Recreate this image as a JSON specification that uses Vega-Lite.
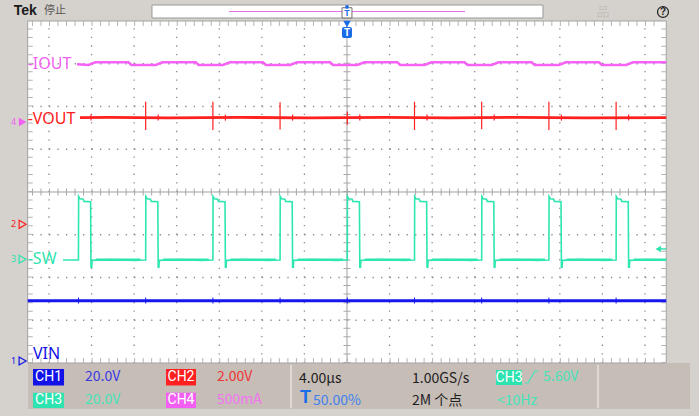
{
"$schema": "https://vega.github.io/schema/vega-lite/v6.json",
"width": 699, "height": 416, "autosize": {"type": "none"}, "padding": 0,
"background": "#d5d1cc",
"config": {"view": {"stroke": null}},
"encoding": {
 "x": {"field": "x", "type": "quantitative", "scale": {"domain": [-8.151, 8.269], "nice": false, "zero": false}, "axis": null},
 "y": {"field": "y", "type": "quantitative", "scale": {"domain": [-5.240, 4.491], "nice": false, "zero": false}, "axis": null}
},
"layer": [
 {"data": {"values": [{"x": -7.488, "x2": 8.058, "y": -4.0, "y2": -5.076}]}, "mark": {"type": "rect", "fill": "#c6bdb7"}, "encoding": {"x2": {"field": "x2"}, "y2": {"field": "y2"}}},
 {"data": {"values": [{"x": -7.5, "x2": 7.5, "y": -4, "y2": 4}]}, "mark": {"type": "rect", "fill": "#ffffff", "stroke": "#a3a3a3", "strokeWidth": 1}, "encoding": {"x2": {"field": "x2"}, "y2": {"field": "y2"}}},
 {"data": {"values": [{"x": -1.315, "y": -4.04, "y2": -5.06}, {"x": 5.896, "y": -4.04, "y2": -5.06}]}, "mark": {"type": "rule", "color": "#ddd8d3", "strokeWidth": 2}, "encoding": {"y2": {"field": "y2"}}},
 {"data": {"values": [{"x": -4.581, "x2": 4.604, "y": 4.070, "y2": 4.374}]}, "mark": {"type": "rect", "fill": "#ffffff", "stroke": "#9a9a9a", "strokeWidth": 1}, "encoding": {"x2": {"field": "x2"}, "y2": {"field": "y2"}}},
 {"data": {"values": [{"x": -2.772, "x2": 2.772, "y": 4.222}]}, "mark": {"type": "rule", "color": "#e66ee6", "strokeWidth": 1.2}, "encoding": {"x2": {"field": "x2"}}},
 {"data": {"values": [{"x": -7, "y": -4, "y2": 4}, {"x": -6, "y": -4, "y2": 4}, {"x": -5, "y": -4, "y2": 4}, {"x": -4, "y": -4, "y2": 4}, {"x": -3, "y": -4, "y2": 4}, {"x": -2, "y": -4, "y2": 4}, {"x": -1, "y": -4, "y2": 4}, {"x": 1, "y": -4, "y2": 4}, {"x": 2, "y": -4, "y2": 4}, {"x": 3, "y": -4, "y2": 4}, {"x": 4, "y": -4, "y2": 4}, {"x": 5, "y": -4, "y2": 4}, {"x": 6, "y": -4, "y2": 4}, {"x": 7, "y": -4, "y2": 4}]}, "mark": {"type": "rule", "color": "#8a8a8a", "strokeWidth": 1.3, "strokeDash": [1.3, 7.25]}, "encoding": {"y2": {"field": "y2"}}},
 {"data": {"values": [{"x": -7.4, "x2": 7.4, "y": -3}, {"x": -7.4, "x2": 7.4, "y": -2}, {"x": -7.4, "x2": 7.4, "y": -1}, {"x": -7.4, "x2": 7.4, "y": 1}, {"x": -7.4, "x2": 7.4, "y": 2}, {"x": -7.4, "x2": 7.4, "y": 3}]}, "mark": {"type": "rule", "color": "#8a8a8a", "strokeWidth": 1.3, "strokeDash": [1.3, 7.214]}, "encoding": {"x2": {"field": "x2"}}},
 {"data": {"values": [{"x": 0, "y": -4, "y2": 4}]}, "mark": {"type": "rule", "color": "#a0a0a0", "strokeWidth": 1}, "encoding": {"y2": {"field": "y2"}}},
 {"data": {"values": [{"x": 0, "y": -4, "y2": 4}]}, "mark": {"type": "rule", "color": "#a8a8a8", "strokeWidth": 7, "strokeDash": [1, 7.55]}, "encoding": {"y2": {"field": "y2"}}},
 {"data": {"values": [{"x": -7.5, "x2": 7.5, "y": 0}]}, "mark": {"type": "rule", "color": "#a0a0a0", "strokeWidth": 1}, "encoding": {"x2": {"field": "x2"}}},
 {"data": {"values": [{"x": -7.4, "x2": 7.4, "y": 0}]}, "mark": {"type": "rule", "color": "#a8a8a8", "strokeWidth": 7, "strokeDash": [1, 7.514]}, "encoding": {"x2": {"field": "x2"}}},
 {"data": {"values": [{"x": -7.441, "y": -4, "y2": 4}, {"x": 7.441, "y": -4, "y2": 4}]}, "mark": {"type": "rule", "color": "#b4b4b4", "strokeWidth": 5, "strokeDash": [1, 7.55]}, "encoding": {"y2": {"field": "y2"}}},
 {"data": {"values": [{"x": -7.4, "x2": 7.4, "y": 3.942}, {"x": -7.4, "x2": 7.4, "y": -3.942}]}, "mark": {"type": "rule", "color": "#b4b4b4", "strokeWidth": 5, "strokeDash": [1, 7.514]}, "encoding": {"x2": {"field": "x2"}}},
 {"data": {"values": [
  {"x": -6.343, "y": 2.99}, {"x": -6.073, "y": 2.971}, {"x": -5.909, "y": 3.034}, {"x": -5.133, "y": 3.034}, {"x": -5.063, "y": 2.971},
  {"x": -4.494, "y": 2.971}, {"x": -4.330, "y": 3.034}, {"x": -3.554, "y": 3.034}, {"x": -3.484, "y": 2.971},
  {"x": -2.915, "y": 2.971}, {"x": -2.751, "y": 3.034}, {"x": -1.975, "y": 3.034}, {"x": -1.905, "y": 2.971},
  {"x": -1.337, "y": 2.971}, {"x": -1.173, "y": 3.034}, {"x": -0.397, "y": 3.034}, {"x": -0.327, "y": 2.971},
  {"x": 0.242, "y": 2.971}, {"x": 0.406, "y": 3.034}, {"x": 1.182, "y": 3.034}, {"x": 1.252, "y": 2.971},
  {"x": 1.821, "y": 2.971}, {"x": 1.985, "y": 3.034}, {"x": 2.761, "y": 3.034}, {"x": 2.831, "y": 2.971},
  {"x": 3.399, "y": 2.971}, {"x": 3.563, "y": 3.034}, {"x": 4.339, "y": 3.034}, {"x": 4.409, "y": 2.971},
  {"x": 4.978, "y": 2.971}, {"x": 5.142, "y": 3.034}, {"x": 5.918, "y": 3.034}, {"x": 5.988, "y": 2.971},
  {"x": 6.557, "y": 2.971}, {"x": 6.721, "y": 3.034}, {"x": 7.5, "y": 3.034}
 ]}, "mark": {"type": "line", "color": "#f562f5", "strokeWidth": 2.5}, "encoding": {}},
 {"data": {"values": [
  {"x": -6.272, "y": 1.74}, {"x": -5.6, "y": 1.745}, {"x": -4.2, "y": 1.735}, {"x": -2.5, "y": 1.745}, {"x": -0.9, "y": 1.735}, {"x": 0.9, "y": 1.745}, {"x": 2.4, "y": 1.735}, {"x": 4.0, "y": 1.745}, {"x": 5.6, "y": 1.735}, {"x": 7.5, "y": 1.74}
 ]}, "mark": {"type": "line", "color": "#ff2020", "strokeWidth": 2.8}, "encoding": {}},
 {"data": {"values": [
  {"x": -4.729, "y": 1.45, "y2": 2.11}, {"x": -3.150, "y": 1.45, "y2": 2.11}, {"x": -1.572, "y": 1.46, "y2": 2.10}, {"x": 0.007, "y": 1.57, "y2": 1.88},
  {"x": 1.586, "y": 1.45, "y2": 2.11}, {"x": 3.164, "y": 1.47, "y2": 2.11}, {"x": 4.743, "y": 1.45, "y2": 2.11}, {"x": 6.322, "y": 1.45, "y2": 2.11},
  {"x": -6.014, "y": 1.67, "y2": 1.81}, {"x": -4.435, "y": 1.67, "y2": 1.81}, {"x": -2.856, "y": 1.67, "y2": 1.81}, {"x": -1.278, "y": 1.67, "y2": 1.81},
  {"x": 0.301, "y": 1.67, "y2": 1.81}, {"x": 1.880, "y": 1.67, "y2": 1.81}, {"x": 3.458, "y": 1.67, "y2": 1.81}, {"x": 5.037, "y": 1.67, "y2": 1.81}, {"x": 6.616, "y": 1.67, "y2": 1.81}
 ]}, "mark": {"type": "rule", "color": "#ff2020", "strokeWidth": 1.2}, "encoding": {"y2": {"field": "y2"}}},
 {"data": {"values": [
  {"x": -6.671, "y": -1.59},
  {"x": -6.308, "y": -1.59}, {"x": -6.304, "y": -0.105}, {"x": -6.271, "y": -0.16}, {"x": -6.195, "y": -0.17}, {"x": -6.177, "y": -0.22}, {"x": -6.023, "y": -0.23}, {"x": -6.014, "y": -1.76}, {"x": -5.997, "y": -1.76}, {"x": -5.989, "y": -1.60}, {"x": -5.558, "y": -1.58}, {"x": -4.998, "y": -1.60},
  {"x": -4.729, "y": -1.59}, {"x": -4.725, "y": -0.105}, {"x": -4.692, "y": -0.16}, {"x": -4.616, "y": -0.17}, {"x": -4.598, "y": -0.22}, {"x": -4.444, "y": -0.23}, {"x": -4.435, "y": -1.76}, {"x": -4.418, "y": -1.76}, {"x": -4.410, "y": -1.60}, {"x": -3.979, "y": -1.58}, {"x": -3.419, "y": -1.60},
  {"x": -3.150, "y": -1.59}, {"x": -3.146, "y": -0.105}, {"x": -3.113, "y": -0.16}, {"x": -3.037, "y": -0.17}, {"x": -3.019, "y": -0.22}, {"x": -2.865, "y": -0.23}, {"x": -2.856, "y": -1.76}, {"x": -2.839, "y": -1.76}, {"x": -2.831, "y": -1.60}, {"x": -2.400, "y": -1.58}, {"x": -1.840, "y": -1.60},
  {"x": -1.572, "y": -1.59}, {"x": -1.568, "y": -0.105}, {"x": -1.535, "y": -0.16}, {"x": -1.459, "y": -0.17}, {"x": -1.441, "y": -0.22}, {"x": -1.287, "y": -0.23}, {"x": -1.278, "y": -1.76}, {"x": -1.261, "y": -1.76}, {"x": -1.253, "y": -1.60}, {"x": -0.822, "y": -1.58}, {"x": -0.262, "y": -1.60},
  {"x": 0.007, "y": -1.59}, {"x": 0.011, "y": -0.105}, {"x": 0.044, "y": -0.16}, {"x": 0.120, "y": -0.17}, {"x": 0.138, "y": -0.22}, {"x": 0.292, "y": -0.23}, {"x": 0.301, "y": -1.76}, {"x": 0.318, "y": -1.76}, {"x": 0.326, "y": -1.60}, {"x": 0.757, "y": -1.58}, {"x": 1.317, "y": -1.60},
  {"x": 1.586, "y": -1.59}, {"x": 1.590, "y": -0.105}, {"x": 1.623, "y": -0.16}, {"x": 1.699, "y": -0.17}, {"x": 1.717, "y": -0.22}, {"x": 1.871, "y": -0.23}, {"x": 1.880, "y": -1.76}, {"x": 1.897, "y": -1.76}, {"x": 1.905, "y": -1.60}, {"x": 2.336, "y": -1.58}, {"x": 2.896, "y": -1.60},
  {"x": 3.164, "y": -1.59}, {"x": 3.168, "y": -0.105}, {"x": 3.201, "y": -0.16}, {"x": 3.277, "y": -0.17}, {"x": 3.295, "y": -0.22}, {"x": 3.449, "y": -0.23}, {"x": 3.458, "y": -1.76}, {"x": 3.475, "y": -1.76}, {"x": 3.483, "y": -1.60}, {"x": 3.914, "y": -1.58}, {"x": 4.474, "y": -1.60},
  {"x": 4.743, "y": -1.59}, {"x": 4.747, "y": -0.105}, {"x": 4.780, "y": -0.16}, {"x": 4.856, "y": -0.17}, {"x": 4.874, "y": -0.22}, {"x": 5.028, "y": -0.23}, {"x": 5.037, "y": -1.76}, {"x": 5.054, "y": -1.76}, {"x": 5.062, "y": -1.60}, {"x": 5.493, "y": -1.58}, {"x": 6.053, "y": -1.60},
  {"x": 6.322, "y": -1.59}, {"x": 6.326, "y": -0.105}, {"x": 6.359, "y": -0.16}, {"x": 6.435, "y": -0.17}, {"x": 6.453, "y": -0.22}, {"x": 6.607, "y": -0.23}, {"x": 6.616, "y": -1.76}, {"x": 6.633, "y": -1.76}, {"x": 6.641, "y": -1.60}, {"x": 7.072, "y": -1.58}, {"x": 7.5, "y": -1.59}
 ]}, "mark": {"type": "line", "color": "#2ee6b0", "strokeWidth": 1.6}, "encoding": {}},
 {"data": {"values": [
  {"x": -5.9, "x2": -4.85, "y": -1.585}, {"x": -4.32, "x2": -3.25, "y": -1.585}, {"x": -2.74, "x2": -1.67, "y": -1.585}, {"x": -1.16, "x2": -0.09, "y": -1.585},
  {"x": 0.42, "x2": 1.49, "y": -1.585}, {"x": 2.0, "x2": 3.07, "y": -1.585}, {"x": 3.58, "x2": 4.65, "y": -1.585}, {"x": 5.16, "x2": 6.23, "y": -1.585}, {"x": 6.74, "x2": 7.5, "y": -1.585}
 ]}, "mark": {"type": "rule", "color": "#2ee6b0", "strokeWidth": 2.6}, "encoding": {"x2": {"field": "x2"}}},
 {"data": {"values": [{"x": -7.5, "y": -2.543}, {"x": 7.5, "y": -2.543}]}, "mark": {"type": "line", "color": "#1616f0", "strokeWidth": 3}, "encoding": {}},
 {"data": {"values": [
  {"x": -6.308, "y": -2.61, "y2": -2.47}, {"x": -4.729, "y": -2.61, "y2": -2.47}, {"x": -3.150, "y": -2.61, "y2": -2.47}, {"x": -1.572, "y": -2.61, "y2": -2.47}, {"x": 0.007, "y": -2.61, "y2": -2.47},
  {"x": 1.586, "y": -2.61, "y2": -2.47}, {"x": 3.164, "y": -2.61, "y2": -2.47}, {"x": 4.743, "y": -2.61, "y2": -2.47}, {"x": 6.322, "y": -2.61, "y2": -2.47}
 ]}, "mark": {"type": "rule", "color": "#1616f0", "strokeWidth": 1}, "encoding": {"y2": {"field": "y2"}}},
 {"data": {"values": [
  {"x": -7.50, "y": 2.994, "s": "-IOUT", "c": "4"},
  {"x": -7.50, "y": 1.719, "s": "-VOUT", "c": "2"},
  {"x": -7.50, "y": -1.579, "s": "-SW", "c": "3"},
  {"x": -7.376, "y": -3.801, "s": "VIN", "c": "1"}
 ]}, "mark": {"type": "text", "align": "left", "baseline": "middle", "font": "Noto Sans", "fontSize": 16},
  "encoding": {"text": {"field": "s"}, "color": {"field": "c", "type": "nominal", "legend": null, "scale": {"domain": ["1", "2", "3", "4", "1t", "2t", "3t", "4t", "k", "w", "tb", "tl", "g", "lg"], "range": ["#1212e8", "#ff2020", "#2de3b0", "#f25ff2", "#3a3ae2", "#ef3535", "#45e3b9", "#f374f3", "#1e1e1e", "#ffffff", "#1a6be8", "#3f82ee", "#555555", "#c4c0bc"]}}}},
 {"data": {"values": [
  {"x": -7.83, "y": 1.637, "s": "4", "c": "4"},
  {"x": -7.83, "y": -0.756, "s": "2", "c": "2"},
  {"x": -7.83, "y": -1.574, "s": "3", "c": "3"},
  {"x": -7.83, "y": -3.953, "s": "1", "c": "1"}
 ]}, "mark": {"type": "text", "align": "center", "baseline": "middle", "font": "Noto Sans", "fontSize": 9},
  "encoding": {"text": {"field": "s"}, "color": {"field": "c", "type": "nominal", "legend": null, "scale": {"domain": ["1", "2", "3", "4", "1t", "2t", "3t", "4t", "k", "w", "tb", "tl", "g", "lg"], "range": ["#1212e8", "#ff2020", "#2de3b0", "#f25ff2", "#3a3ae2", "#ef3535", "#45e3b9", "#f374f3", "#1e1e1e", "#ffffff", "#1a6be8", "#3f82ee", "#555555", "#c4c0bc"]}}}},
 {"data": {"values": [{"x": -7.62, "y": 1.637}]}, "mark": {"type": "point", "shape": "triangle-right", "filled": true, "size": 75, "color": "#f25ff2", "opacity": 1}, "encoding": {}},
 {"data": {"values": [
  {"x": -7.62, "y": -0.756, "c": "2"},
  {"x": -7.62, "y": -1.574, "c": "3"},
  {"x": -7.62, "y": -3.953, "c": "1"}
 ]}, "mark": {"type": "point", "shape": "triangle-right", "filled": false, "size": 65, "strokeWidth": 1.2, "opacity": 1},
  "encoding": {"color": {"field": "c", "type": "nominal", "legend": null, "scale": {"domain": ["1", "2", "3", "4", "1t", "2t", "3t", "4t", "k", "w", "tb", "tl", "g", "lg"], "range": ["#1212e8", "#ff2020", "#2de3b0", "#f25ff2", "#3a3ae2", "#ef3535", "#45e3b9", "#f374f3", "#1e1e1e", "#ffffff", "#1a6be8", "#3f82ee", "#555555", "#c4c0bc"]}}}},
 {"data": {"values": [{"x": 7.31, "y": -1.333}]}, "mark": {"type": "point", "shape": "triangle-left", "filled": true, "size": 40, "color": "#2de3b0", "opacity": 1}, "encoding": {}},
 {"data": {"values": [{"x": 7.36, "x2": 7.5, "y": -1.333}]}, "mark": {"type": "rule", "color": "#2de3b0", "strokeWidth": 1.5}, "encoding": {"x2": {"field": "x2"}}},
 {"data": {"values": [{"x": 0, "y": 3.93}]}, "mark": {"type": "point", "shape": "triangle-down", "filled": true, "size": 55, "color": "#1a6be8", "opacity": 1}, "encoding": {}},
 {"data": {"values": [{"x": -0.117, "x2": 0.117, "y": 3.602, "y2": 3.860}]}, "mark": {"type": "rect", "fill": "#1a6be8", "cornerRadius": 2}, "encoding": {"x2": {"field": "x2"}, "y2": {"field": "y2"}}},
 {"data": {"values": [{"x": 0, "y": 3.728, "s": "T"}]}, "mark": {"type": "text", "align": "center", "baseline": "middle", "font": "Liberation Sans", "fontWeight": "bold", "fontSize": 10, "color": "#ffffff"}, "encoding": {"text": {"field": "s"}}},
 {"data": {"values": [{"x": -0.117, "x2": 0.117, "y": 4.07, "y2": 4.31}]}, "mark": {"type": "rect", "fill": "#ffffff", "stroke": "#707070", "strokeWidth": 1}, "encoding": {"x2": {"field": "x2"}, "y2": {"field": "y2"}}},
 {"data": {"values": [{"x": 0, "y": 4.33}]}, "mark": {"type": "point", "shape": "circle", "filled": true, "size": 14, "color": "#1a6be8", "opacity": 1}, "encoding": {}},
 {"data": {"values": [{"x": 0, "y": 4.18, "s": "T"}]}, "mark": {"type": "text", "align": "center", "baseline": "middle", "font": "Liberation Sans", "fontWeight": "bold", "fontSize": 9, "color": "#1a6be8"}, "encoding": {"text": {"field": "s"}}},
 {"data": {"values": [
  {"x": -7.375, "x2": -6.647, "y": -4.140, "y2": -4.526, "c": "1"},
  {"x": -7.375, "x2": -6.647, "y": -4.695, "y2": -5.053, "c": "3"},
  {"x": -4.252, "x2": -3.547, "y": -4.140, "y2": -4.526, "c": "2"},
  {"x": -4.252, "x2": -3.547, "y": -4.695, "y2": -5.053, "c": "4"},
  {"x": 3.500, "x2": 4.111, "y": -4.164, "y2": -4.515, "c": "3"}
 ]}, "mark": {"type": "rect"},
  "encoding": {"x2": {"field": "x2"}, "y2": {"field": "y2"}, "color": {"field": "c", "type": "nominal", "legend": null, "scale": {"domain": ["1", "2", "3", "4", "1t", "2t", "3t", "4t", "k", "w", "tb", "tl", "g", "lg"], "range": ["#1212e8", "#ff2020", "#2de3b0", "#f25ff2", "#3a3ae2", "#ef3535", "#45e3b9", "#f374f3", "#1e1e1e", "#ffffff", "#1a6be8", "#3f82ee", "#555555", "#c4c0bc"]}}}},
 {"data": {"values": [
  {"x": -7.011, "y": -4.339, "s": "CH1"},
  {"x": -7.011, "y": -4.877, "s": "CH3"},
  {"x": -3.899, "y": -4.339, "s": "CH2"},
  {"x": -3.899, "y": -4.877, "s": "CH4"},
  {"x": 3.806, "y": -4.345, "s": "CH3"}
 ]}, "mark": {"type": "text", "align": "center", "baseline": "middle", "font": "Liberation Sans Narrow, Roboto", "fontSize": 14, "color": "#ffffff"}, "encoding": {"text": {"field": "s"}}},
 {"data": {"values": [
  {"x": -6.155, "y": -4.339, "s": "20.0V", "c": "1t"},
  {"x": -6.155, "y": -4.877, "s": "20.0V", "c": "3t"},
  {"x": -3.054, "y": -4.339, "s": "2.00V", "c": "2t"},
  {"x": -3.054, "y": -4.877, "s": "500mA", "c": "4t"},
  {"x": -1.128, "y": -4.363, "s": "4.00µs", "c": "k"},
  {"x": -0.799, "y": -4.882, "s": "50.00%", "c": "tl"},
  {"x": 1.527, "y": -4.363, "s": "1.00GS/s", "c": "k"},
  {"x": 1.527, "y": -4.882, "s": "2M 个点", "c": "k"},
  {"x": 4.604, "y": -4.339, "s": "5.60V", "c": "3t"},
  {"x": 3.524, "y": -4.889, "s": "<10Hz", "c": "3t"}
 ]}, "mark": {"type": "text", "align": "left", "baseline": "middle", "font": "Liberation Sans Narrow, Noto Sans CJK SC, Roboto", "fontSize": 14},
  "encoding": {"text": {"field": "s"}, "color": {"field": "c", "type": "nominal", "legend": null, "scale": {"domain": ["1", "2", "3", "4", "1t", "2t", "3t", "4t", "k", "w", "tb", "tl", "g", "lg"], "range": ["#1212e8", "#ff2020", "#2de3b0", "#f25ff2", "#3a3ae2", "#ef3535", "#45e3b9", "#f374f3", "#1e1e1e", "#ffffff", "#1a6be8", "#3f82ee", "#555555", "#c4c0bc"]}}}},
 {"data": {"values": [{"x": -1.104, "y": -4.81, "s": "T"}]}, "mark": {"type": "text", "align": "left", "baseline": "middle", "font": "Liberation Sans", "fontWeight": "bold", "fontSize": 18, "color": "#1a6be8"}, "encoding": {"text": {"field": "s"}}},
 {"data": {"values": [{"x": 4.181, "y": -4.468}, {"x": 4.252, "y": -4.468}, {"x": 4.416, "y": -4.187}, {"x": 4.487, "y": -4.187}]}, "mark": {"type": "line", "color": "#45e3b9", "strokeWidth": 1.2}, "encoding": {}},
 {"data": {"values": [{"x": -7.83, "y": 4.234, "s": "Tek"}]}, "mark": {"type": "text", "align": "left", "baseline": "middle", "font": "Liberation Sans", "fontWeight": "bold", "fontSize": 14, "color": "#1a1a1a"}, "encoding": {"text": {"field": "s"}}},
 {"data": {"values": [{"x": -7.118, "y": 4.222, "s": "停止"}]}, "mark": {"type": "text", "align": "left", "baseline": "middle", "font": "Noto Sans CJK SC", "fontSize": 11, "color": "#555555"}, "encoding": {"text": {"field": "s"}}},
 {"data": {"values": [{"x": 6.014, "y": 4.211, "s": "品"}]}, "mark": {"type": "text", "align": "center", "baseline": "middle", "font": "Noto Sans CJK SC", "fontSize": 13, "color": "#c4c0bc"}, "encoding": {"text": {"field": "s"}}},
 {"data": {"values": [{"x": 7.423, "y": 4.211}]}, "mark": {"type": "point", "shape": "circle", "filled": false, "size": 120, "color": "#222222", "strokeWidth": 1.2, "opacity": 1}, "encoding": {}},
 {"data": {"values": [{"x": 7.423, "y": 4.211, "s": "?"}]}, "mark": {"type": "text", "align": "center", "baseline": "middle", "font": "Liberation Sans", "fontWeight": "bold", "fontSize": 10, "color": "#222222"}, "encoding": {"text": {"field": "s"}}}
]
}
